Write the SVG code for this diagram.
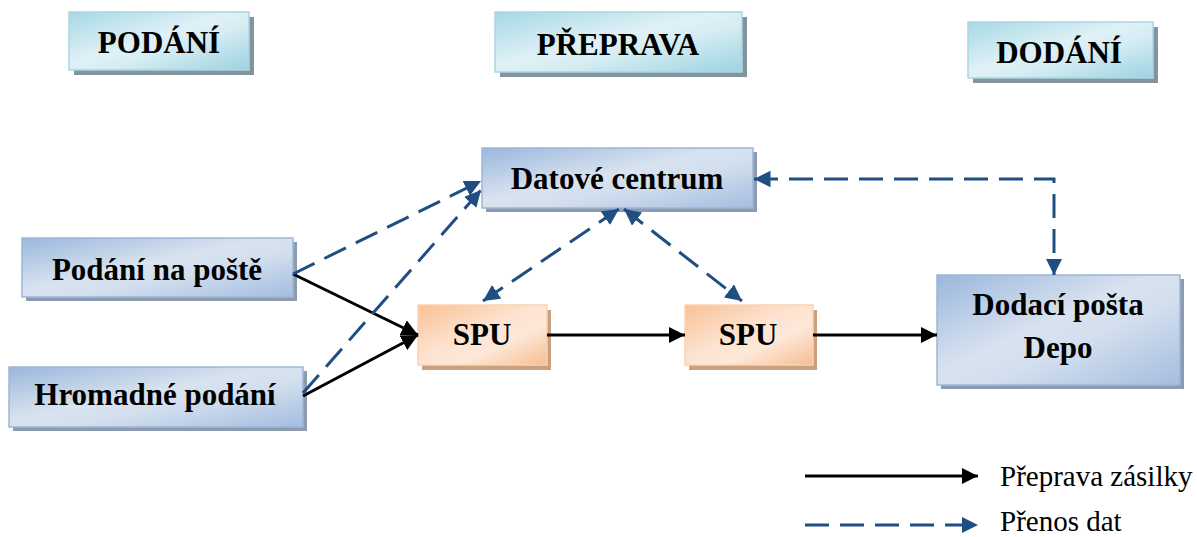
<svg xmlns="http://www.w3.org/2000/svg" width="1197" height="537" viewBox="0 0 1197 537">
  <defs>
    <linearGradient id="gBlue" x1="0" y1="0" x2="1" y2="1">
      <stop offset="0" stop-color="#9ab7dc"/>
      <stop offset="0.45" stop-color="#d9e3f0"/>
      <stop offset="0.6" stop-color="#d3dfee"/>
      <stop offset="1" stop-color="#a4bddf"/>
    </linearGradient>
    <linearGradient id="gCyan" x1="0" y1="0" x2="1" y2="1">
      <stop offset="0" stop-color="#a6d8e5"/>
      <stop offset="0.45" stop-color="#dff1f6"/>
      <stop offset="0.6" stop-color="#d6edf3"/>
      <stop offset="1" stop-color="#9cd3e1"/>
    </linearGradient>
    <linearGradient id="gOrange" x1="0" y1="0" x2="1" y2="1">
      <stop offset="0" stop-color="#f9c195"/>
      <stop offset="0.45" stop-color="#fde3d0"/>
      <stop offset="0.65" stop-color="#fde8da"/>
      <stop offset="1" stop-color="#f8bd90"/>
    </linearGradient>
    <marker id="ahBlack" viewBox="0 0 10 10" refX="10" refY="5" markerWidth="5.5" markerHeight="5.5" orient="auto" markerUnits="strokeWidth">
      <path d="M0,0 L10,5 L0,10 Z" fill="#000"/>
    </marker>
    <marker id="ahBlue" viewBox="0 0 10 10" refX="10" refY="5" markerWidth="5.5" markerHeight="5.5" orient="auto-start-reverse" markerUnits="strokeWidth">
      <path d="M0,0 L10,5 L0,10 Z" fill="#1f4e83"/>
    </marker>
  </defs>
  <style>
    .shadowB { fill: #8d9bb0; }
    .shadowC { fill: #84949e; }
    .shadowO { fill: #c9a080; }
    .blue { fill: url(#gBlue); stroke: #9cb6d9; stroke-width: 1.5; }
    .cyan { fill: url(#gCyan); stroke: #a9d6e2; stroke-width: 1.5; }
    .orange { fill: url(#gOrange); stroke: #fbd2b2; stroke-width: 1.5; }
    .lbl { font-family: "Liberation Serif", "Times New Roman", serif; font-weight: bold; font-size: 31px; fill: #000; text-anchor: middle; }
    .leg { font-family: "Liberation Serif", "Times New Roman", serif; font-size: 29px; fill: #000; }
    .solid { stroke: #000; stroke-width: 3; fill: none; marker-end: url(#ahBlack); }
    .dash { stroke: #1f4e83; stroke-width: 3; fill: none; stroke-dasharray: 24 11; marker-end: url(#ahBlue); }
    .dash2 { marker-start: url(#ahBlue); }
  </style>

  <!-- section headers -->
  <g id="hdr-podani">
    <rect class="shadowC" x="74" y="17" width="180" height="58"/>
    <rect class="cyan" x="69" y="12" width="180" height="58"/>
    <text class="lbl" x="159" y="53">PODÁNÍ</text>
  </g>
  <g id="hdr-preprava">
    <rect class="shadowC" x="500" y="17" width="247" height="60"/>
    <rect class="cyan" x="495" y="12" width="247" height="60"/>
    <text class="lbl" x="618" y="55">PŘEPRAVA</text>
  </g>
  <g id="hdr-dodani">
    <rect class="shadowC" x="973" y="27" width="185" height="56"/>
    <rect class="cyan" x="968" y="22" width="185" height="56"/>
    <text class="lbl" x="1059" y="63">DODÁNÍ</text>
  </g>

  <!-- nodes -->
  <g id="datove-centrum">
    <rect class="shadowB" x="486" y="152" width="271" height="60"/>
    <rect class="blue" x="482" y="148" width="271" height="60"/>
    <text class="lbl" x="617" y="189">Datové centrum</text>
  </g>
  <g id="podani-na-poste">
    <rect class="shadowB" x="26" y="242" width="271" height="59"/>
    <rect class="blue" x="22" y="238" width="271" height="59"/>
    <text class="lbl" x="157" y="280">Podání na poště</text>
  </g>
  <g id="hromadne-podani">
    <rect class="shadowB" x="13" y="371" width="294" height="60"/>
    <rect class="blue" x="9" y="367" width="294" height="60"/>
    <text class="lbl" x="155" y="405">Hromadné podání</text>
  </g>
  <g id="spu-1">
    <rect class="shadowO" x="422" y="310" width="129" height="60"/>
    <rect class="orange" x="418" y="305" width="129" height="60"/>
    <text class="lbl" x="482" y="345">SPU</text>
  </g>
  <g id="spu-2">
    <rect class="shadowO" x="689" y="310" width="128" height="60"/>
    <rect class="orange" x="685" y="305" width="128" height="60"/>
    <text class="lbl" x="748" y="345">SPU</text>
  </g>
  <g id="dodaci-posta">
    <rect class="shadowB" x="941" y="279" width="243" height="110"/>
    <rect class="blue" x="937" y="275" width="243" height="110"/>
    <text class="lbl" x="1058" y="315">Dodací pošta</text>
    <text class="lbl" x="1058" y="358">Depo</text>
  </g>

  <!-- connectors -->
  <g id="connectors">
    <line class="solid" x1="293" y1="274" x2="418" y2="335"/>
    <line class="solid" x1="303" y1="396" x2="418" y2="335"/>
    <line class="solid" x1="547" y1="335" x2="685" y2="335"/>
    <line class="solid" x1="813" y1="335" x2="937" y2="335"/>

    <line class="dash" x1="293" y1="274" x2="481" y2="181"/>
    <line class="dash" x1="303" y1="393" x2="481" y2="190"/>
    <line class="dash dash2" x1="483" y1="301" x2="619" y2="209"/>
    <line class="dash dash2" x1="624" y1="209" x2="742" y2="301"/>
    <path class="dash dash2" d="M754,179 H1054 V275"/>
  </g>

  <!-- legend -->
  <g id="legend">
    <line class="solid" x1="805" y1="476" x2="978" y2="476"/>
    <text class="leg" x="1000" y="486">Přeprava zásilky</text>
    <line class="dash" x1="805" y1="525" x2="978" y2="525" style="marker-start:none"/>
    <text class="leg" x="1000" y="531">Přenos dat</text>
  </g>
</svg>
